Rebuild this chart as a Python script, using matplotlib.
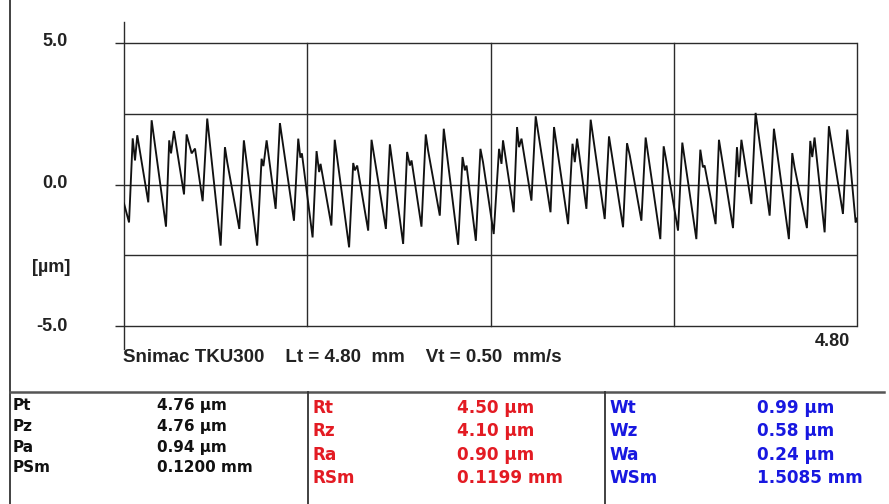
import matplotlib
matplotlib.use("Agg")
import matplotlib.pyplot as plt

# Roughness profile vertices: position along the trace (mm) and height (µm)
profile_x_mm = [
    0.000, 0.033, 0.057, 0.072, 0.087, 0.159, 0.181, 0.275, 0.296, 0.308,
    0.327, 0.393, 0.410, 0.443, 0.465, 0.515, 0.545, 0.633, 0.661, 0.676,
    0.755, 0.785, 0.872, 0.901, 0.913, 0.934, 0.993, 1.021, 1.113, 1.141,
    1.155, 1.165, 1.235, 1.261, 1.278, 1.287, 1.358, 1.380, 1.474, 1.501,
    1.512, 1.527, 1.599, 1.621, 1.715, 1.741, 1.828, 1.854, 1.872, 1.883,
    1.948, 1.976, 1.991, 2.068, 2.094, 2.188, 2.217, 2.232, 2.243, 2.304,
    2.334, 2.351, 2.421, 2.456, 2.472, 2.482, 2.552, 2.574, 2.587, 2.603,
    2.668, 2.696, 2.793, 2.816, 2.908, 2.937, 2.952, 2.967, 3.028, 3.056,
    3.148, 3.176, 3.268, 3.294, 3.312, 3.388, 3.416, 3.512, 3.534, 3.547,
    3.628, 3.656, 3.748, 3.774, 3.791, 3.802, 3.874, 3.896, 3.988, 4.014,
    4.027, 4.043, 4.108, 4.136, 4.228, 4.256, 4.354, 4.376, 4.391, 4.472,
    4.494, 4.507, 4.522, 4.588, 4.616, 4.631, 4.708, 4.736, 4.791, 4.800,
]
profile_z_um = [
    -0.67, -1.34, 1.63, 0.85, 1.74, -0.63, 2.27, -1.49, 1.56, 1.10,
    1.89, -0.35, 1.77, 1.10, 1.27, -0.59, 2.33, -2.16, 1.32, 0.79,
    -1.57, 1.56, -2.16, 0.91, 0.65, 1.56, -0.86, 2.17, -1.28, 1.62,
    0.95, 1.10, -1.87, 1.18, 0.44, 0.73, -1.45, 1.58, -2.22, 0.76,
    0.50, 0.67, -1.63, 1.58, -1.57, 1.42, -2.10, 1.15, 0.67, 0.85,
    -1.49, 1.77, 1.21, -1.10, 1.97, -2.13, 0.97, 0.50, 0.67, -1.99,
    1.26, 0.79, -1.75, 1.26, 0.73, 1.56, -0.98, 2.03, 1.32, 1.62,
    -0.57, 2.41, -0.98, 2.03, -1.40, 1.44, 0.79, 1.62, -0.86, 2.29,
    -1.22, 1.70, -1.51, 1.46, 1.03, -1.28, 1.66, -1.93, 1.35, 0.97,
    -1.63, 1.48, -1.93, 1.23, 0.61, 0.67, -1.40, 1.58, -1.54, 1.32,
    0.26, 1.58, -0.69, 2.53, -1.10, 1.97, -1.93, 1.11, 0.61, -1.54,
    1.54, 0.97, 1.66, -1.69, 2.06, 1.56, -1.04, 1.94, -1.34, -1.20,
]

# Axis scale
x_max_mm = 4.80
y_limit_um = 5.0
y_tick_values = [5.0, 0.0, -5.0]
y_tick_labels = ["5.0", "0.0", "-5.0"]
y_grid_values = [5.0, 2.5, 0.0, -2.5, -5.0]
x_grid_values = [1.2, 2.4, 3.6, 4.8]
x_end_label = "4.80"
unit_label = "[µm]"
caption = "Snimac TKU300    Lt = 4.80  mm    Vt = 0.50  mm/s"

# Parameter table
p_names = ["Pt", "Pz", "Pa", "PSm"]
p_values = ["4.76 µm", "4.76 µm", "0.94 µm", "0.1200 mm"]
r_names = ["Rt", "Rz", "Ra", "RSm"]
r_values = ["4.50 µm", "4.10 µm", "0.90 µm", "0.1199 mm"]
w_names = ["Wt", "Wz", "Wa", "WSm"]
w_values = ["0.99 µm", "0.58 µm", "0.24 µm", "1.5085 mm"]

W, H = 889, 504
fig = plt.figure(figsize=(W / 100, H / 100), dpi=100)
fig.patch.set_facecolor("white")

# Overlay in pixel coordinates for the frame, table and labels
pix = fig.add_axes([0, 0, 1, 1])
pix.set_xlim(0, W)
pix.set_ylim(H, 0)
pix.axis("off")

# Profile axes
left_px, right_px, top_px, bottom_px = 124, 857, 43, 326
ax = fig.add_axes([left_px / W, 1 - bottom_px / H,
                   (right_px - left_px) / W, (bottom_px - top_px) / H])
ax.set_xlim(0, x_max_mm)
ax.set_ylim(-y_limit_um, y_limit_um)
ax.set_facecolor("none")
for s in ax.spines.values():
    s.set_visible(False)
ax.set_xticks([])
ax.set_yticks([])

grid_c = "#2b2b2b"
grid_lw = 1.0
tick_len = 0.06
for v in y_grid_values:
    x0 = -tick_len if v in y_tick_values else 0.0
    ax.plot([x0, x_max_mm], [v, v], color=grid_c, lw=grid_lw,
            clip_on=False, solid_capstyle="butt", zorder=1)
for v in x_grid_values:
    ax.plot([v, v], [-y_limit_um, y_limit_um], color=grid_c, lw=grid_lw,
            clip_on=False, zorder=1)
# vertical axis line extending beyond the frame
ax.plot([0, 0], [5.75, -5.82], color=grid_c, lw=grid_lw, clip_on=False, zorder=1)

ax.plot(profile_x_mm, profile_z_um, color="#111111", lw=1.35, zorder=3,
        solid_joinstyle="miter")

lab_font = dict(family=["Liberation Sans", "DejaVu Sans"], weight="bold",
                color="#222222")
tick_y_px = {5.0: 41.5, 0.0: 183.5, -5.0: 326.5}
for v, t in zip(y_tick_values, y_tick_labels):
    pix.text(68, tick_y_px[v], t, ha="right", va="center", fontsize=13, **lab_font)
pix.text(70, 268, unit_label, ha="right", va="center", fontsize=13, **lab_font)
pix.text(850, 342, x_end_label, ha="right", va="center", fontsize=13, **lab_font)
pix.text(123, 358, caption, ha="left", va="center", fontsize=13.5, **lab_font)

# Frame and table lines
line_c = "#333333"
pix.plot([10, 10], [0, H], color=line_c, lw=1.3)
pix.plot([10, 884], [391.5, 391.5], color="#555555", lw=1.8)
pix.plot([307.5, 307.5], [391.5, H], color=line_c, lw=1.3)
pix.plot([604.5, 604.5], [391.5, H], color=line_c, lw=1.3)

tab_font = dict(family=["DejaVu Sans"], weight="bold")
p_rows = [405.5, 426.5, 447.5, 468]
for n, v, y in zip(p_names, p_values, p_rows):
    pix.text(13, y, n, ha="left", va="center", fontsize=11, color="#111111", **tab_font)
    pix.text(157, y, v, ha="left", va="center", fontsize=11, color="#111111", **tab_font)

rw_rows = [408, 431.5, 455, 478]
red = "#e31b23"
blue = "#1818e0"
for n, v, y in zip(r_names, r_values, rw_rows):
    pix.text(312, y, n, ha="left", va="center", fontsize=12.2, color=red, **tab_font)
    pix.text(457, y, v, ha="left", va="center", fontsize=12.2, color=red, **tab_font)
for n, v, y in zip(w_names, w_values, rw_rows):
    pix.text(610, y, n, ha="left", va="center", fontsize=12.2, color=blue, **tab_font)
    pix.text(757, y, v, ha="left", va="center", fontsize=12.2, color=blue, **tab_font)

fig.savefig("out.png", dpi=100, facecolor="white")
